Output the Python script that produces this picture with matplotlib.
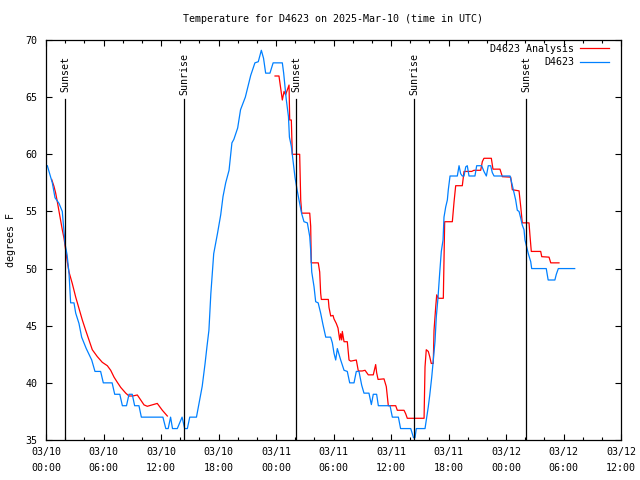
import numpy as np
import matplotlib
matplotlib.use("Agg")
import matplotlib.pyplot as plt
from matplotlib.ticker import MultipleLocator

# ---- data (hours since 2025-03-10 00:00 UTC, degrees F) ----
obs_h = [0.14, 0.66, 0.94, 1.36, 1.70, 1.98, 2.20, 2.40, 2.57, 2.92, 3.10, 3.44, 3.72, 4.20, 4.77,
         5.11, 5.70, 5.98, 6.90, 7.17, 7.70, 7.97, 8.40, 8.66, 9.00, 9.25, 9.70, 9.95, 12.20, 12.50,
         12.75, 13.00, 13.20, 13.70, 14.20, 14.47, 14.75, 15.00, 15.70, 15.97, 16.30, 16.60, 16.80,
         17.00, 17.20, 17.35, 17.50, 17.90, 18.23, 18.47, 18.75, 19.10, 19.40, 19.60, 20.00, 20.30,
         20.80, 21.36, 21.80, 22.15, 22.47, 22.70, 22.92, 23.37, 23.70, 24.66, 24.80, 25.07, 25.30,
         25.40, 25.60, 25.98, 26.20, 26.40, 26.68, 26.92, 27.27, 27.52, 27.62, 27.73, 27.97, 28.14,
         28.40, 28.66, 28.90, 29.19, 29.70, 29.88, 30.05, 30.23, 30.40, 30.75, 31.10, 31.44, 31.69,
         32.14, 32.38, 32.66, 32.94, 33.18, 33.70, 33.95, 34.15, 34.50, 34.68, 35.90, 36.14, 36.77,
         37.00, 38.06, 38.20, 38.35, 38.50, 38.64, 39.55, 39.68, 39.89, 40.04, 40.25, 40.38, 40.59,
         40.73, 40.90, 41.08, 41.25, 41.43, 41.53, 41.71, 41.88, 41.98, 42.16, 42.92, 43.10, 43.27,
         43.44, 43.62, 43.80, 43.96, 44.14, 44.76, 44.94, 45.46, 45.70, 45.95, 46.15, 46.40, 46.57,
         46.75, 48.42, 48.60, 48.76, 49.01, 49.18, 49.36, 49.54, 49.70, 49.88, 49.98, 50.16, 50.33,
         50.58, 50.68, 52.20, 52.40, 53.10, 53.25, 53.46, 55.17]
obs_t = [59.0, 57.5, 56.2, 55.7, 55.0, 52.2, 51.2, 49.6, 47.0, 47.0, 46.1, 45.2, 44.0, 43.0, 42.0,
         41.0, 41.0, 40.0, 40.0, 39.0, 39.0, 38.0, 38.0, 39.0, 39.0, 38.0, 38.0, 37.0, 37.0, 36.0,
         36.0, 37.0, 36.0, 36.0, 37.0, 36.0, 36.0, 37.0, 37.0, 38.2, 39.7, 41.7, 43.2,
         44.6, 47.8, 49.6, 51.3, 53.1, 54.7, 56.3, 57.5, 58.6, 61.0, 61.3, 62.3, 63.9,
         65.0, 66.9, 68.0, 68.1, 69.1, 68.4, 67.1, 67.1, 68.0, 68.0, 67.1, 64.8, 63.3,
         61.5, 60.7, 58.0, 56.9, 56.0, 54.8, 54.1, 54.0, 52.8, 51.6, 49.7, 48.4, 47.1,
         47.0, 46.1, 45.1, 44.0, 44.0, 43.5, 42.6, 42.0, 43.0, 42.0, 41.1, 41.0, 40.0,
         40.0, 41.0, 41.0, 39.8, 39.1, 39.1, 38.1, 39.0, 39.0, 38.0, 38.0, 37.0, 37.0,
         36.0, 36.0, 35.6, 35.2, 35.2, 36.0, 36.0, 36.75, 37.9, 38.9, 40.5, 41.7, 43.6,
         45.8, 47.4, 49.6, 51.5, 52.5, 54.5, 55.4, 56.0, 56.9, 58.1, 58.1, 59.0, 58.3,
         58.1, 58.1, 58.9, 59.0, 58.1, 58.1, 59.0, 59.0, 58.5, 58.1, 59.0, 59.0, 58.4,
         58.1, 58.1, 57.5, 56.9, 56.0, 55.1, 55.0, 54.4, 53.8, 53.4, 52.5, 51.9, 51.3,
         50.6, 50.0, 50.0, 49.0, 49.0, 49.5, 50.0, 50.0]

ana_h = [0.59, 0.83, 1.01, 1.18, 1.36, 1.53, 1.70, 1.88, 2.06, 2.22, 2.40, 2.74, 3.10, 3.44, 3.79,
         4.14, 4.49, 4.83, 5.35, 5.87, 6.40, 6.75, 7.10, 7.44, 7.80, 8.32, 8.66, 9.05, 9.53, 9.88,
         10.23, 10.57, 11.09, 11.61, 12.14, 12.66, np.nan,
         23.90, 24.31, 24.42, 24.66, 24.84, 25.00, 25.36, 25.43, 25.60, 25.70, 26.47, 26.58, 26.68,
         27.52, 27.62, 27.68, 28.41, 28.56, 28.66, 28.73, 29.46, 29.53, 29.71, 29.95, 30.05, 30.29,
         30.47, 30.65, 30.75, 30.86, 30.92, 31.10, 31.44, 31.62, 31.80, 32.38, 32.59, 33.00, 33.29,
         33.63, 34.15, 34.40, 34.50, 34.65, 35.27, 35.51, 35.72, 36.49, 36.66, 37.36, 37.53, 37.70,
         39.45, 39.55, 39.68, 39.89, 40.04, 40.20, 40.41, 40.49, 40.67, 40.77, 40.94, 41.46, 41.60,
         42.40, 42.58, 42.75, 43.44, 43.62, 44.42, 44.66, 45.36, 45.53, 45.70, 46.47, 46.64, 47.37,
         47.62, 48.49, 48.66, 49.36, 49.54, 49.70, 50.40, 50.50, 50.64, 51.62, 51.73, 52.49, 52.67,
         53.53]
ana_t = [57.8, 57.2, 56.6, 55.85, 55.0, 54.25, 53.4, 52.65, 51.6, 50.6, 49.7, 48.7, 47.5, 46.5, 45.5,
         44.6, 43.75, 42.9, 42.3, 41.8, 41.5, 41.1, 40.5, 40.05, 39.6, 39.1, 38.85, 38.85, 38.94, 38.5,
         38.07, 37.95, 38.07, 38.2, 37.6, 37.1, np.nan,
         66.85, 66.85, 66.2, 64.75, 65.5, 65.2, 66.06, 63.0, 63.0, 60.0, 60.0, 56.0, 54.85,
         54.85, 53.7, 50.5, 50.5, 49.7, 47.85, 47.3, 47.3, 46.6, 45.85, 45.9, 45.6, 45.2,
         44.8, 43.75, 44.3, 43.75, 44.5, 43.6, 43.6, 42.0, 41.9, 42.0, 41.04, 41.04, 41.1,
         40.7, 40.7, 41.6, 40.9, 40.3, 40.35, 39.67, 38.0, 38.0, 37.6, 37.6, 37.3, 36.9,
         36.9, 41.4, 42.9, 42.75, 42.3, 41.7, 41.7, 44.6, 46.7, 47.7, 47.4, 47.4, 54.1,
         54.1, 55.85, 57.25, 57.25, 58.5, 58.5, 58.6, 58.6, 59.36, 59.65, 59.65, 58.7, 58.7,
         58.04, 58.0, 56.9, 56.8, 55.4, 54.0, 54.0, 52.9, 51.5, 51.5, 51.04, 51.0, 50.5,
         50.5]

sun_h = [1.98, 14.4, 26.09, 38.4, 50.09]
sun_lbl = ["Sunset", "Sunrise", "Sunset", "Sunrise", "Sunset"]

xtick_h = [0, 6, 12, 18, 24, 30, 36, 42, 48, 54, 60]
xtick_lbl = ["03/10\n00:00", "03/10\n06:00", "03/10\n12:00", "03/10\n18:00", "03/11\n00:00",
             "03/11\n06:00", "03/11\n12:00", "03/11\n18:00", "03/12\n00:00", "03/12\n06:00",
             "03/12\n12:00"]
ytick_v = [35, 40, 45, 50, 55, 60, 65, 70]

mono = "DejaVu Sans Mono"
fs = 7.2

fig = plt.figure(figsize=(6.4, 4.8), dpi=100)
ax = fig.add_axes([46/640, 40/480, 575/640, 400/480])

ax.plot(ana_h, ana_t, color="#ff0000", lw=0.9, label="D4623 Analysis")
ax.plot(obs_h, obs_t, color="#0080ff", lw=0.9, label="D4623")

for h, lbl in zip(sun_h, sun_lbl):
    ax.plot([h, h], [0, 0.8525], color="black", lw=0.9, transform=ax.get_xaxis_transform())
    ax.text(h, 0.915, lbl, rotation=90, ha="center", va="center", family=mono, fontsize=fs,
            transform=ax.get_xaxis_transform())

ax.set_xlim(0, 60)
ax.set_ylim(35, 70)
ax.set_xticks(xtick_h)
ax.set_xticklabels(xtick_lbl, family=mono, fontsize=fs, linespacing=1.75)
ax.xaxis.set_minor_locator(MultipleLocator(2))
ax.set_yticks(ytick_v)
ax.set_yticklabels([str(v) for v in ytick_v], family=mono, fontsize=fs)
ax.tick_params(which="major", direction="in", length=4, width=0.8, top=True, right=True, pad=5)
ax.tick_params(which="minor", direction="in", length=2, width=0.8, top=True, right=False)
ax.tick_params(axis="y", pad=6)
for s in ax.spines.values():
    s.set_linewidth(0.9)

ax.set_ylabel("degrees F", family=mono, fontsize=fs, labelpad=7)
fig.text(333/640, 1 - 19/480, "Temperature for D4623 on 2025-Mar-10 (time in UTC)",
         ha="center", va="center", family=mono, fontsize=fs)

leg = ax.legend(loc="upper right", frameon=False, prop={"family": mono, "size": fs},
                markerfirst=False, handlelength=2.9, handletextpad=0.6, labelspacing=0.35,
                borderpad=0, borderaxespad=0, bbox_to_anchor=((609 - 46) / 575, (440 - 44) / 400))
for t in leg.get_texts():
    t.set_ha("right")

fig.savefig("out.png", dpi=100)
